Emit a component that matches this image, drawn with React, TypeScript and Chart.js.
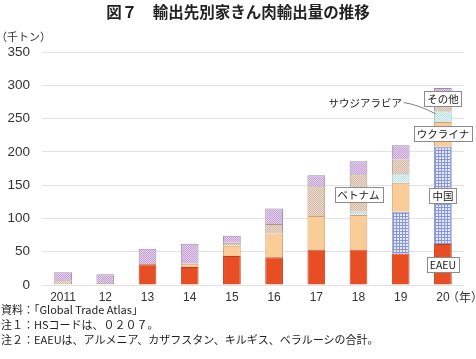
import React, { useEffect, useRef } from "react";
import { Chart, registerables } from "chart.js";
Chart.register(...registerables);

const years = ["2011", "12", "13", "14", "15", "16", "17", "18", "19", "20"];
const eaeu = [null, null, 31, 27, 43.5, 41.5, 53.5, 53.5, 47.5, 61.5];
const china = [null, null, null, null, null, null, null, null, 62.5, 146];
const ukraine = [null, null, null, 5, 15.5, 36, 50, 51.5, 43.5, 37.5];
const saudi = [null, null, null, null, null, null, null, 5, 13, 16];
const vietnam = [7, 3, null, null, 4.5, 14, 45, 56.5, 22, 10];
const others = [12, 13, 23.5, 30, 10.5, 23.5, 16.5, 19.5, 21.5, 25];
const yTicks = [0, 50, 100, 150, 200, 250, 300, 350];

// label anchors in data units: [category index, value]
const boxLabels = [
  { text: "ベトナム", i: 7, v: 136.5 },
  { text: "中国", i: 9, v: 134 },
  { text: "EAEU", i: 9, v: 31 },
  { text: "ウクライナ", i: 9, v: 228 },
  { text: "その他", i: 9, v: 280 },
];

const JP = '"Noto Sans CJK JP", "Noto Sans", sans-serif';
const NUM = '"Liberation Sans", Arial, sans-serif';

function makePattern(bg: string, fg: string, kind: "dots" | "grid") {
  const c = document.createElement("canvas");
  const s = kind === "grid" ? 3 : 2;
  c.width = s;
  c.height = s;
  const g = c.getContext("2d")!;
  g.fillStyle = bg;
  g.fillRect(0, 0, s, s);
  g.fillStyle = fg;
  if (kind === "grid") {
    g.fillRect(0, 0, s, 1);
    g.fillRect(0, 0, 1, s);
  } else {
    g.fillRect(0, 0, 1, 1);
    g.fillRect(1, 1, 1, 1);
  }
  return g.createPattern(c, "repeat")!;
}

const labelPlugin = {
  id: "labelPlugin",
  afterDatasetsDraw(chart: any) {
    const { ctx, scales } = chart;
    const xs = scales.x;
    const ys = scales.y;
    ctx.save();
    const lx0 = xs.getPixelForValue(9) - 39;
    const ly0 = ys.getPixelForValue(274);
    const lx1 = xs.getPixelForValue(9) - 7;
    const ly1 = ys.getPixelForValue(257);
    ctx.strokeStyle = "#808080";
    ctx.lineWidth = 1;
    ctx.beginPath();
    ctx.moveTo(lx0, ly0);
    ctx.quadraticCurveTo(lx0 + 14, ly0 + 2, lx1, ly1);
    ctx.stroke();
    ctx.font = `10.5px ${JP}`;
    ctx.fillStyle = "#222";
    ctx.textAlign = "right";
    ctx.textBaseline = "middle";
    ctx.fillText("サウジアラビア", lx0 - 2, ly0);

    for (const b of boxLabels) {
      const cx = xs.getPixelForValue(b.i);
      const cy = ys.getPixelForValue(b.v);
      ctx.font = `10.5px ${JP}`;
      const w = Math.round(ctx.measureText(b.text).width + 6);
      const h = 15;
      const x = Math.round(cx - w / 2) + 0.5;
      const y = Math.round(cy - h / 2) + 0.5;
      ctx.fillStyle = "#ffffff";
      ctx.fillRect(x, y, w, h);
      ctx.strokeStyle = "#8c8c8c";
      ctx.strokeRect(x, y, w, h);
      ctx.fillStyle = "#222";
      ctx.textAlign = "center";
      ctx.textBaseline = "middle";
      ctx.fillText(b.text, cx, cy + 0.5);
    }

    ctx.font = `12px ${JP}`;
    ctx.fillStyle = "#333";
    ctx.textAlign = "left";
    ctx.textBaseline = "middle";
    ctx.fillText("（年）", xs.getPixelForValue(9) + 4, ys.getPixelForValue(0) + 12);
    ctx.restore();
  },
};

export default function App() {
  const ref = useRef<HTMLCanvasElement>(null);
  useEffect(() => {
    document.body.style.margin = "0";
    const red = "#E84E24";
    const blue = makePattern("#e6e9f9", "#8795dc", "grid");
    const peach = "#F9CC98";
    const cyan = makePattern("#eef9fb", "#b5dde6", "dots");
    const tan = makePattern("#eddccd", "#d2b9a6", "dots");
    const purple = makePattern("#e4d0ec", "#c3a3d2", "dots");
    const common = { barPercentage: 0.42, categoryPercentage: 1, borderWidth: 1 };
    const chart = new Chart(ref.current!, {
      type: "bar",
      data: {
        labels: years,
        datasets: [
          { label: "EAEU", data: eaeu, backgroundColor: red, borderColor: "#b8401f", ...common },
          { label: "中国", data: china, backgroundColor: blue, borderColor: "#8d99cf", ...common },
          { label: "ウクライナ", data: ukraine, backgroundColor: peach, borderColor: "#d2a274", ...common },
          { label: "サウジアラビア", data: saudi, backgroundColor: cyan, borderColor: "#a7c9d1", ...common },
          { label: "ベトナム", data: vietnam, backgroundColor: tan, borderColor: "#ab9584", ...common },
          { label: "その他", data: others, backgroundColor: purple, borderColor: "#a08aab", ...common },
        ] as any,
      },
      options: {
        animation: false,
        responsive: true,
        maintainAspectRatio: false,
        layout: { padding: { left: 0, top: 52, right: 12, bottom: 50 } },
        plugins: { legend: { display: false }, tooltip: { enabled: false }, title: { display: false } },
        scales: {
          x: {
            stacked: true,
            grid: { display: false, drawTicks: false },
            border: { display: false },
            ticks: { color: "#333", font: { family: NUM, size: 12 }, padding: 5, maxRotation: 0, autoSkip: false },
            afterFit: (s: any) => { s.height = 24; },
          },
          y: {
            stacked: true,
            min: 0,
            max: 350,
            afterBuildTicks: (s: any) => { s.ticks = yTicks.map((v) => ({ value: v })); },
            grid: { color: "#e2e2e2", lineWidth: 1, drawTicks: false },
            border: { display: false },
            ticks: { color: "#333", font: { family: NUM, size: 13.5 }, padding: 12 },
            afterFit: (s: any) => { s.width = 42; },
          },
        },
      } as any,
      plugins: [labelPlugin],
    });
    return () => chart.destroy();
  }, []);

  const note: React.CSSProperties = {
    position: "absolute", left: 1, fontFamily: JP, fontSize: 11, lineHeight: "15px", color: "#222", whiteSpace: "nowrap",
  };
  return (
    <div style={{ position: "relative", width: 476, height: 359, background: "#fff", overflow: "hidden" }}>
      <canvas ref={ref} style={{ position: "absolute", left: 0, top: 0, width: 476, height: 359 }} />
      <div style={{ position: "absolute", left: 0, top: 2, width: 476, textAlign: "center", fontFamily: JP, fontWeight: 700, fontSize: 15.5, lineHeight: "18px", color: "#222" }}>
        図７　輸出先別家きん肉輸出量の推移
      </div>
      <div style={{ position: "absolute", left: -4, top: 28, fontFamily: JP, fontSize: 11, lineHeight: "16px", color: "#333" }}>（千トン）</div>
      <div style={{ ...note, top: 302 }}>資料：「Global Trade Atlas」</div>
      <div style={{ ...note, top: 317 }}>注１：HSコードは、０２０７。</div>
      <div style={{ ...note, top: 332 }}>注２：EAEUは、アルメニア、カザフスタン、キルギス、ベラルーシの合計。</div>
    </div>
  );
}
